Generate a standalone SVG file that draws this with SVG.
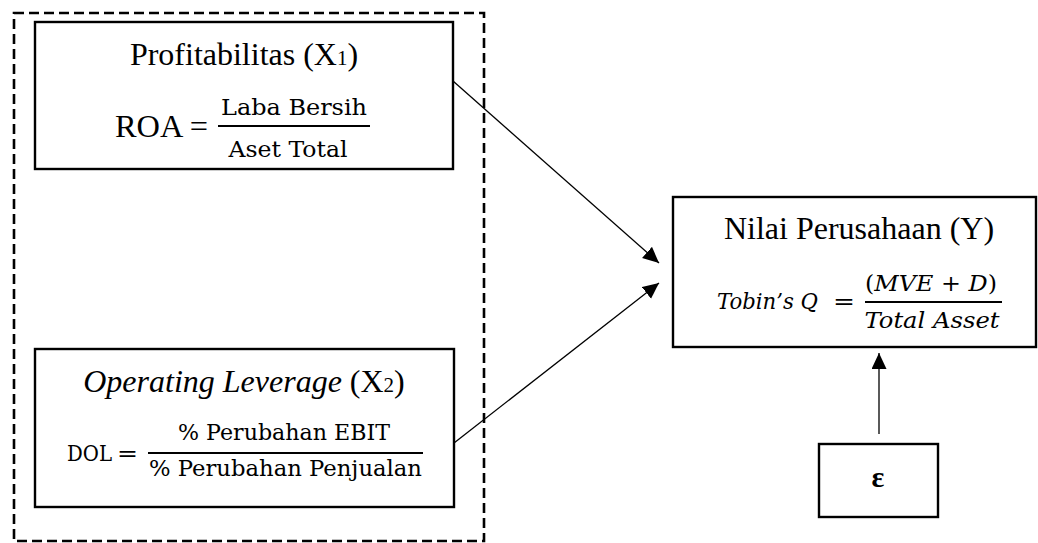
<svg xmlns="http://www.w3.org/2000/svg" width="1038" height="543" viewBox="0 0 1038 543">
  <style>
    .box { fill: #fff; stroke: #000; stroke-width: 2.4; }
    .dash { fill: none; stroke: #000; stroke-width: 2.6; stroke-dasharray: 10 5; }
    .conn { stroke: #000; stroke-width: 1.3; fill: none; }
    .title { font-family: "Liberation Serif", "Times New Roman", serif; font-size: 32px; fill: #000; }
    .math { font-family: "DejaVu Serif", "Liberation Serif", serif; font-size: 22px; fill: #000; }
    .mathi { font-family: "DejaVu Serif", "Liberation Serif", serif; font-size: 22px; font-style: italic; fill: #000; }
    .frac { stroke: #000; stroke-width: 2; }
    .eps { font-family: "Liberation Serif", "Times New Roman", serif; font-size: 30px; font-weight: bold; fill: #000; }
  </style>
  <defs>
    <marker id="arrow" markerUnits="userSpaceOnUse" markerWidth="17" markerHeight="16" refX="16" refY="7.5" orient="auto">
      <path d="M0,0 L16,7.5 L0,15 Z" fill="#000"/>
    </marker>
  </defs>
  <rect width="1038" height="543" fill="#fff"/>

  <g id="group-independent">
    <rect class="dash" x="14" y="13" width="470" height="528"/>
  </g>

  <g id="node-x1">
    <rect class="box" x="35" y="22" width="418" height="147"/>
    <text class="title" x="244" y="65" text-anchor="middle">Profitabilitas (X<tspan font-size="21">1</tspan>)</text>
    <text class="title" x="115" y="137" textLength="93" lengthAdjust="spacingAndGlyphs">ROA =</text>
    <line class="frac" x1="218" y1="126" x2="370" y2="126"/>
    <text class="math" x="294" y="115" text-anchor="middle" textLength="146" lengthAdjust="spacingAndGlyphs">Laba Bersih</text>
    <text class="math" x="288" y="157" text-anchor="middle" textLength="119" lengthAdjust="spacingAndGlyphs">Aset Total</text>
  </g>

  <g id="node-x2">
    <rect class="box" x="35" y="349" width="419" height="158"/>
    <text class="title" x="244" y="392" text-anchor="middle"><tspan font-style="italic">Operating Leverage</tspan> (X<tspan font-size="21">2</tspan>)</text>
    <text class="math" x="67" y="461" textLength="45" lengthAdjust="spacingAndGlyphs">DOL</text>
    <text class="math" x="117" y="461" textLength="21" lengthAdjust="spacingAndGlyphs">=</text>
    <line class="frac" x1="148" y1="453" x2="423" y2="453"/>
    <text class="math" x="284" y="440" text-anchor="middle" textLength="212" lengthAdjust="spacingAndGlyphs">% Perubahan EBIT</text>
    <text class="math" x="285.5" y="476" text-anchor="middle" textLength="273" lengthAdjust="spacingAndGlyphs">% Perubahan Penjualan</text>
  </g>

  <g id="node-y">
    <rect class="box" x="673" y="197" width="363" height="150"/>
    <text class="title" x="859" y="239" text-anchor="middle">Nilai Perusahaan (Y)</text>
    <text class="mathi" x="717" y="309" textLength="101" lengthAdjust="spacingAndGlyphs">Tobin’s Q</text>
    <text class="math" x="833" y="309" textLength="22" lengthAdjust="spacingAndGlyphs">=</text>
    <line class="frac" x1="865" y1="302" x2="1002" y2="302"/>
    <text class="math" x="931" y="291" text-anchor="middle" textLength="132" lengthAdjust="spacingAndGlyphs">(<tspan font-style="italic">MVE</tspan> + <tspan font-style="italic">D</tspan>)</text>
    <text class="mathi" x="932" y="328" text-anchor="middle" textLength="135" lengthAdjust="spacingAndGlyphs">Total Asset</text>
  </g>

  <g id="node-e">
    <rect class="box" x="819" y="444" width="119" height="73"/>
    <text class="eps" x="878" y="487" text-anchor="middle">ε</text>
  </g>

  <g id="connectors">
    <line class="conn" x1="453" y1="81" x2="659" y2="263" marker-end="url(#arrow)"/>
    <line class="conn" x1="454" y1="443" x2="659" y2="283" marker-end="url(#arrow)"/>
    <line class="conn" x1="879" y1="434" x2="879" y2="353" marker-end="url(#arrow)"/>
  </g>
</svg>
